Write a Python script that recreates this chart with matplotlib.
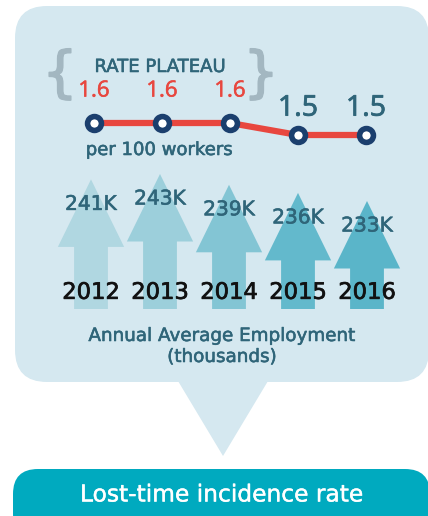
import matplotlib.pyplot as plt
import matplotlib.patheffects as pe
from matplotlib.patches import FancyBboxPatch, Polygon

plt.rcParams['font.family'] = ['DejaVu Sans']

# data
years = [2012, 2013, 2014, 2015, 2016]
rates = [1.6, 1.6, 1.6, 1.5, 1.5]
employment = [241, 243, 239, 236, 233]          # thousands
emp_labels = ['241K', '243K', '239K', '236K', '233K']
year_labels = ['2012', '2013', '2014', '2015', '2016']

# colours
bubble_col = '#d5e8f0'
pill_col = '#00aabf'
text_col = '#2f6579'
red = '#e8473f'
navy = '#1b3f6e'
arrow_cols = ['#b0d7e1', '#9ccfdb', '#83c5d4', '#63b9cc', '#5ab5c9']


def heavy(col, w=0.4):
    # slightly thicker strokes, closer to the medium weight of the original
    return [pe.withStroke(linewidth=w, foreground=col)]


W, H = 428, 516
fig = plt.figure(figsize=(W / 100, H / 100), dpi=100)

# background shapes in pixel coords
bg = fig.add_axes([0, 0, 1, 1])
bg.set_xlim(0, W)
bg.set_ylim(H, 0)
bg.axis('off')

bg.add_patch(FancyBboxPatch((15, 6), 414, 376, boxstyle='round,pad=0,rounding_size=32',
                            fc=bubble_col, ec='none'))
bg.add_patch(Polygon([(178, 381), (268, 381), (223, 456)], closed=True,
                     fc=bubble_col, ec='none'))
bg.add_patch(FancyBboxPatch((13, 469), 417, 70, boxstyle='round,pad=0,rounding_size=25',
                            fc=pill_col, ec='none'))
bg.text(222, 495, 'Lost-time incidence rate', color='white', fontsize=16.8,
        ha='center', va='center', path_effects=heavy('white', 0.3))

bg.text(160, 67, 'RATE PLATEAU', color=text_col, fontsize=13,
        ha='center', va='center', path_effects=heavy(text_col))
bg.text(60, 76, '{', color='#a3b7c1', fontsize=40, ha='center', va='center',
        path_effects=heavy('#a3b7c1', 1.2))
bg.text(261, 76, '}', color='#a3b7c1', fontsize=40, ha='center', va='center',
        path_effects=heavy('#a3b7c1', 1.2))
bg.text(159, 150, 'per 100 workers', color=text_col, fontsize=13,
        ha='center', va='center', path_effects=heavy(text_col))
bg.text(222, 336, 'Annual Average Employment', color=text_col, fontsize=13.2,
        ha='center', va='center', path_effects=heavy(text_col))
bg.text(222, 357, '(thousands)', color=text_col, fontsize=13.2,
        ha='center', va='center', path_effects=heavy(text_col))

# employment arrows: x = year, y = thousands
ax_a = fig.add_axes([0, 0, 1, 1])
ax_a.patch.set_alpha(0)
ax_a.axis('off')
px_year, px_k = 69, 2.7
ax_a.set_xlim(2012 - 91 / px_year, 2012 + (W - 91) / px_year)
ax_a.set_ylim(243 - (H - 174) / px_k, 243 + 174 / px_k)

base = 193
head_len = 25
head_w = 0.48
shaft_w = 0.245
for yr, v, col, lab, ylab in zip(years, employment, arrow_cols, emp_labels, year_labels):
    hb = v - head_len
    pts = [(yr - shaft_w, base), (yr - shaft_w, hb), (yr - head_w, hb), (yr, v),
           (yr + head_w, hb), (yr + shaft_w, hb), (yr + shaft_w, base)]
    ax_a.add_patch(Polygon(pts, closed=True, fc=col, ec='none'))
    ax_a.annotate(lab, (yr, v), xytext=(0, -18), textcoords='offset points',
                  ha='center', va='center', color=text_col, fontsize=14.5,
                  path_effects=heavy(text_col))
    ax_a.annotate(ylab, (yr, base), xytext=(0, 12), textcoords='offset points',
                  ha='center', va='center', color='#111111', fontsize=16.3,
                  path_effects=heavy('#111111', 0.5))

# rate line: x = year, y = rate
ax_l = fig.add_axes([0, 0, 1, 1])
ax_l.patch.set_alpha(0)
ax_l.axis('off')
px_ly, px_r = 68, 120
ax_l.set_xlim(2012 - 94 / px_ly, 2012 + (W - 94) / px_ly)
ax_l.set_ylim(1.6 - (H - 123) / px_r, 1.6 + 123 / px_r)
ax_l.plot(years, rates, color=red, lw=4.5, zorder=2, solid_capstyle='round')
ax_l.plot(years, rates, 'o', ms=10, mfc='white', mec=navy, mew=4, zorder=3)
for yr, r in zip(years, rates):
    if r >= 1.6:
        ax_l.annotate(f'{r}', (yr, r), xytext=(0, 23), textcoords='offset points',
                      ha='center', va='center', color=red, fontsize=16,
                      family=['Open Sans', 'DejaVu Sans'], path_effects=heavy(red))
    else:
        ax_l.annotate(f'{r}', (yr, r), xytext=(0, 19), textcoords='offset points',
                      ha='center', va='center', color=text_col, fontsize=20.5,
                      family=['Open Sans', 'DejaVu Sans'], path_effects=heavy(text_col, 0.6))

fig.savefig('out.png', dpi=100)
